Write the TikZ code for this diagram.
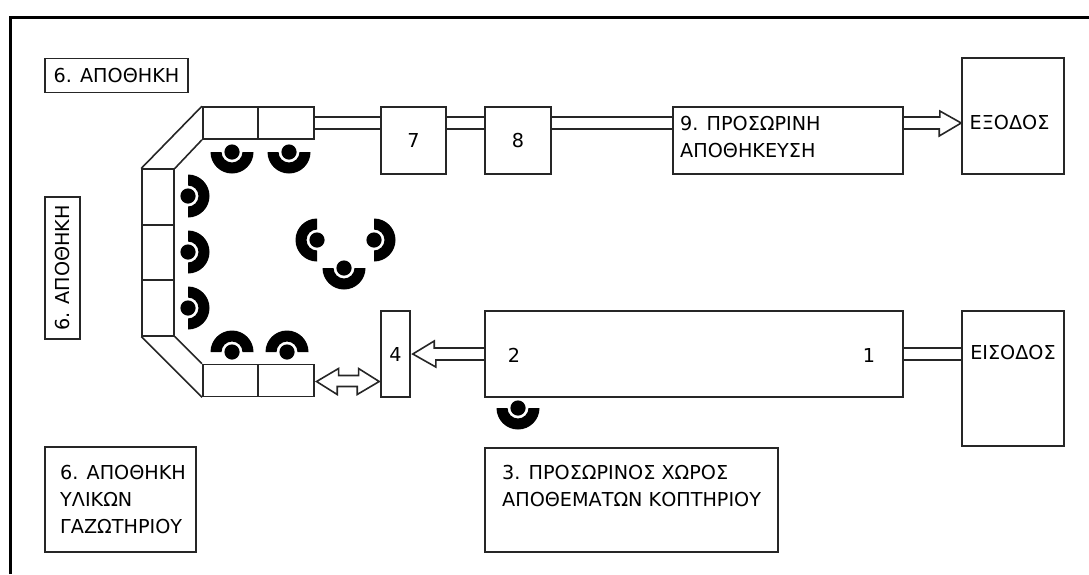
\documentclass[tikz,border=0pt]{standalone}
\usepackage{fontspec}
\setmainfont{DejaVu Sans}
\usetikzlibrary{calc}

\tikzset{
    box/.style={draw=black!85, line width=1.6pt, fill=white, inner sep=0pt, align=center, font=\fontsize{19.2}{27}\selectfont},
    cell/.style={box, minimum width=55.5pt, minimum height=32pt},
    sidecell/.style={box, minimum width=32pt, minimum height=55.5pt},
    tag/.style={inner sep=0pt, align=left, font=\fontsize{19.2}{27}\selectfont},
    pipe/.style={draw=black!85, line width=1.6pt},
    worker/.pic={
        \fill (0,0) circle (7.6);
        \fill (-21.5,0) arc[start angle=180, end angle=0, radius=21.5] -- (10.5,0) arc[start angle=0, end angle=180, radius=10.5] -- cycle;
    }
}

\begin{document}
\begin{tikzpicture}[yscale=-1, x=1pt, y=1pt, node distance=55.5pt]
        \useasboundingbox (0,0) rectangle (1089,574);

        % Frame
        \draw[line width=3pt] (10,574) -- (10,17) -- (1089,17);

        % Store rooms
        \node[box, minimum width=143pt, minimum height=34pt] (storeA) at (116.5,75.5) {6. ΑΠΟΘΗΚΗ};
        \node[box, minimum width=142pt, minimum height=35pt, rotate=90] (storeB) at (62.5,268) {6. ΑΠΟΘΗΚΗ};
        \node[box, minimum width=151pt, minimum height=105pt] (storeC) at (120.5,499.5) {};
        \node[tag, anchor=west] (storeCtext) at (60,499.5) {6. ΑΠΟΘΗΚΗ\\ΥΛΙΚΩΝ\\ΓΑΖΩΤΗΡΙΟΥ};

        % Line of cells
        \node[cell] (topA) at (230.5,123) {};
        \node[cell, right of=topA] (topB) {};
        \node[sidecell] (sideA) at (158,197) {};
        \node[sidecell] (sideB) at (158,252.5) {};
        \node[sidecell] (sideC) at (158,308) {};
        \node[cell] (lowA) at (230.5,380.5) {};
        \node[cell, right of=lowA] (lowB) {};

        % Corners
        \draw[pipe] (topA.north west) -- (sideA.north west);
        \draw[pipe] (topA.south west) -- (sideA.north east);
        \draw[pipe] (lowA.south west) -- (sideC.south west);
        \draw[pipe] (lowA.north west) -- (sideC.south east);

        % Upper row
        \node[box, minimum width=65pt, minimum height=67pt] (seven) at (413.5,140.5) {7};
        \node[box, minimum width=66pt, minimum height=67pt, right of=seven, node distance=104.5pt] (eight) {8};
        \node[box, minimum width=230pt, minimum height=67pt] (nine) at (788,140.5) {};
        \node[tag, anchor=west] (ninetext) at (680,137.5) {9. ΠΡΟΣΩΡΙΝΗ\\ΑΠΟΘΗΚΕΥΣΗ};
        \node[box, minimum width=102pt, minimum height=116pt] (exit) at (1013,116) {};
        \node[tag] (exittext) at (1009.5,123) {ΕΞΟΔΟΣ};

        % Lower row
        \node[box, minimum width=29pt, minimum height=86pt] (four) at (395.5,354) {4};
        \node[box, minimum width=418pt, minimum height=86pt] (hall) at (694,354) {};
        \node[tag] (hallB) at (514,355) {2};
        \node[tag] (hallA) at (869,355) {1};
        \node[box, minimum width=102pt, minimum height=135pt] (entry) at (1013,378.5) {};
        \node[tag] (entrytext) at (1013,353) {ΕΙΣΟΔΟΣ};
        \node[box, minimum width=293pt, minimum height=104pt] (buffer) at (631.5,500) {};
        \node[tag, anchor=west] (buffertext) at (502,486.5) {3. ΠΡΟΣΩΡΙΝΟΣ ΧΩΡΟΣ\\ΑΠΟΘΕΜΑΤΩΝ ΚΟΠΤΗΡΙΟΥ};

        % Pipes
        \draw[pipe, transform canvas={yshift=6pt}] (topB.east) -- (seven.west |- topB.east);
        \draw[pipe, transform canvas={yshift=-6pt}] (topB.east) -- (seven.west |- topB.east);
        \draw[pipe, transform canvas={yshift=6pt}] (seven.east |- topB.east) -- (eight.west |- topB.east);
        \draw[pipe, transform canvas={yshift=-6pt}] (seven.east |- topB.east) -- (eight.west |- topB.east);
        \draw[pipe, transform canvas={yshift=6pt}] (eight.east |- topB.east) -- (nine.west |- topB.east);
        \draw[pipe, transform canvas={yshift=-6pt}] (eight.east |- topB.east) -- (nine.west |- topB.east);
        \draw[pipe, transform canvas={yshift=6pt}] (hall.east) -- (entry.west |- hall.east);
        \draw[pipe, transform canvas={yshift=-6pt}] (hall.east) -- (entry.west |- hall.east);

        % Hollow arrows
        \draw[pipe, line join=miter] ($(nine.east |- topB.east)+(0,-6)$) -- ++(36,0) -- ++(0,-6) -- (exit.west |- topB.east) -- ++(-22,13) -- ++(0,-7) -- ($(nine.east |- topB.east)+(0,6)$);
        \draw[pipe, line join=miter] ($(hall.west)+(0,-6)$) -- ++(-50,0) -- ++(0,-7) -- ($(four.east)+(2,0)$) -- ++(23,13) -- ++(0,-7) -- ($(hall.west)+(0,6)$);
        \draw[pipe, line join=miter] ($(lowB.east)+(2,1)$) -- ++(22,-13) -- ++(0,7) -- ++(20,0) -- ++(0,-7) -- ($(four.west |- lowB.east)+(-1,1)$) -- ++(-22,13) -- ++(0,-8) -- ++(-20,0) -- ++(0,8) -- cycle;

        % Workers
        \pic[rotate=180] at (232,152) {worker};
        \pic[rotate=180] at (289,152) {worker};
        \pic[rotate=-90] at (188,196) {worker};
        \pic[rotate=-90] at (188,252) {worker};
        \pic[rotate=-90] at (188,308) {worker};
        \pic at (232,352) {worker};
        \pic at (287,352) {worker};
        \pic[rotate=90] at (317,240) {worker};
        \pic[rotate=-90] at (374,240) {worker};
        \pic[rotate=180] at (344,268) {worker};
        \pic[rotate=180] at (518,408) {worker};
    \end{tikzpicture}
\end{document}
